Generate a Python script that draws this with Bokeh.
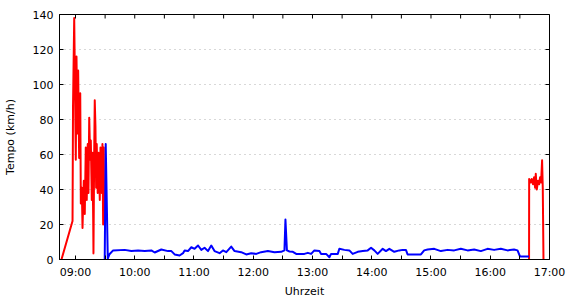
import math
from bokeh.plotting import figure
from bokeh.models import FixedTicker, Range1d
from bokeh.embed import file_html
from bokeh.resources import INLINE

# time in minutes since midnight, speed in km/h
red_am_t = [525.8, 537.0, 537.5, 538.7, 540.3, 541.0, 542.0, 542.7, 543.7, 544.8, 545.4,
            546.4, 547.1, 548.4, 549.4, 550.4, 551.4, 552.4, 553.1, 553.9, 554.9, 555.5,
            556.2, 556.5, 557.2, 557.9, 558.2, 558.9, 559.5, 560.2, 560.9, 561.5, 562.5,
            563.3, 564.0, 564.6, 565.3, 566.0, 566.6, 567.3, 568.0, 568.6, 569.0]
red_am_v = [0, 22, 88, 138, 57, 116, 72, 108, 58, 95, 32,
            41, 18, 45, 26, 64, 34, 66, 38, 81, 57, 68,
            45, 34, 61, 24, 3.5, 59, 91, 76, 41, 66, 38,
            61, 49, 34, 64, 62, 38, 66, 20, 64, 20]

red_pm_t = [999.3, 999.4, 1001.0, 1002.0, 1003.3, 1004.4, 1005.4, 1006.1, 1007.1, 1008.4,
            1009.5, 1010.5, 1011.5, 1012.5, 1013.2, 1013.9]
red_pm_v = [0, 46, 44, 46, 43, 47, 41, 49, 40, 45,
            43, 47, 44, 56.7, 40.5, 0]

blue_t = [569.6, 570.6, 572.7, 574.4, 578.1, 589.8, 596.6, 603.4, 610.1, 616.8, 620.2,
          626.9, 633.7, 637.1, 640.4, 645.4, 648.9, 650.5, 653.9, 657.3, 660.6, 664.1,
          667.4, 670.7, 674.2, 677.5, 680.8, 685.9, 689.3, 692.7, 697.7, 701.1, 707.8,
          712.9, 717.9, 723.0, 728.0, 734.8, 741.5, 748.3, 751.6, 752.6, 754.1, 756.7,
          760.1, 763.5, 771.8, 775.3, 778.6, 781.9, 787.0, 788.7, 793.8, 797.1, 798.8,
          805.6, 807.2, 812.3, 817.3, 820.7, 825.8, 830.9, 835.9, 839.3, 842.6, 846.0,
          851.1, 854.4, 857.8, 862.8, 867.9, 871.2, 874.6, 876.3, 889.8, 893.1, 896.6,
          903.3, 910.0, 916.8, 923.5, 930.2, 937.0, 943.7, 950.5, 957.2, 963.9, 970.7,
          977.5, 984.1, 987.6, 990.2, 999.3]
blue_v = [0, 66, 0.5, 3, 5.2, 5.5, 4.8, 5.2, 4.8, 5.2, 4,
          5.7, 4.8, 4.8, 2.9, 2.3, 3.6, 5.2, 4.8, 7, 6.1, 8,
          5.5, 6.7, 4.8, 8, 4.8, 3.6, 5.2, 4.2, 7.4, 4.8, 4.2,
          2.9, 3.6, 3.2, 4.2, 4.8, 4.2, 4.4, 5.2, 22.9, 5.2, 4.6,
          4.4, 3.2, 3.2, 3.8, 3.2, 5.2, 4.8, 3.2, 3.2, 1.3, 3.2,
          3.2, 6.1, 5.5, 5.2, 3.2, 4.4, 4.8, 5.2, 6.7, 5.2, 3.2,
          6.1, 4.8, 6.1, 4.4, 5.2, 5.5, 5.5, 2.9, 2.9, 5.2, 5.7,
          6.1, 4.8, 5.5, 5.2, 6.1, 5.2, 5.7, 4.8, 6.1, 5.5, 6.1,
          5.2, 5.7, 5.2, 1.7, 1.7]

x_hour_ticks = [540, 600, 660, 720, 780, 840, 900, 960, 1020]
x_hour_labels = ["09:00", "10:00", "11:00", "12:00", "13:00", "14:00", "15:00", "16:00", "17:00"]
x_half_ticks = [570, 630, 690, 750, 810, 870, 930, 990]
y_ticks = [0, 20, 40, 60, 80, 100, 120, 140]

FONT = "DejaVu Sans"
X_START, X_END = 523.8, 1020
Y_START, Y_END = 0, 140

p = figure(width=570, height=300, output_backend="svg", toolbar_location=None,
           x_range=Range1d(X_START, X_END), y_range=Range1d(Y_START, Y_END),
           min_border_left=58, min_border_right=21, min_border_top=14, min_border_bottom=41)
p.background_fill_color = "white"
p.border_fill_color = "white"
p.outline_line_color = "black"
p.outline_line_width = 1

p.xgrid.visible = False
p.ygrid.ticker = FixedTicker(ticks=y_ticks[1:-1])
p.ygrid.grid_line_color = "#b0b0b0"
p.ygrid.grid_line_dash = "1 4"
p.ygrid.grid_line_width = 1

p.line(red_am_t, red_am_v, line_color="#ff0000", line_width=2, line_join="round")
p.line(red_pm_t, red_pm_v, line_color="#ff0000", line_width=2, line_join="round")
p.line(blue_t, blue_v, line_color="#0000ff", line_width=2, line_join="round")

# mirrored inward ticks on the top and right edges (half clipped by the frame)
all_x_ticks = sorted(x_hour_ticks + x_half_ticks)
p.scatter(all_x_ticks, [Y_END] * len(all_x_ticks), marker="dash", angle=math.pi / 2,
          size=8, line_color="black", line_width=1)
p.scatter([X_END] * len(y_ticks), y_ticks, marker="dash", size=8,
          line_color="black", line_width=1)

xa = p.xaxis[0]
xa.ticker = FixedTicker(ticks=x_hour_ticks, minor_ticks=x_half_ticks)
xa.major_label_overrides = {t: lab for t, lab in zip(x_hour_ticks, x_hour_labels)}
xa.axis_label = "Uhrzeit"
ya = p.yaxis[0]
ya.ticker = FixedTicker(ticks=y_ticks)
ya.axis_label = "Tempo (km/h)"

for ax in (xa, ya):
    ax.major_tick_in = 4
    ax.major_tick_out = 0
    ax.minor_tick_in = 4
    ax.minor_tick_out = 0
    ax.axis_line_color = "black"
    ax.major_tick_line_color = "black"
    ax.minor_tick_line_color = "black"
    ax.major_label_text_font = FONT
    ax.major_label_text_font_size = "11px"
    ax.major_label_text_color = "black"
    ax.axis_label_text_font = FONT
    ax.axis_label_text_font_size = "11px"
    ax.axis_label_text_font_style = "normal"
    ax.axis_label_text_color = "black"
    ax.major_label_standoff = 6

xa.axis_label_standoff = 3
ya.axis_label_standoff = 13

open("out.html", "w").write(file_html(p, INLINE))
